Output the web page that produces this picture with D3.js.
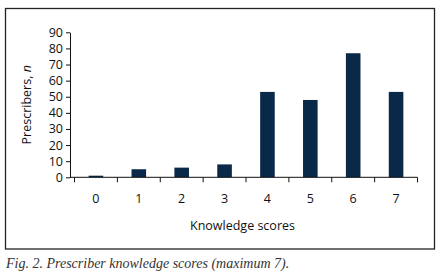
<!DOCTYPE html>
<html>
<head>
<meta charset="utf-8">
<script src="https://cdn.jsdelivr.net/npm/d3@7"></script>
<style>
  body { margin: 0; background: #fff; }
  svg { display: block; }
</style>
</head>
<body>
<div id="chart"></div>
<script>
// knowledge score categories and counts
var scores = ['0', '1', '2', '3', '4', '5', '6', '7']
var counts = [1, 5, 6, 8, 53, 48, 77, 53]
var yTicks = [0, 10, 20, 30, 40, 50, 60, 70, 80, 90]

const W = 440, H = 278
const margin = { top: 32.3, left: 74.5, right: 22.5, bottom: 100.7 }

const svg = d3.select('#chart')
    .append('svg')
    .attr('width', W)
    .attr('height', H)

// frame round the chart
svg.append('rect')
    .attr('x', 5.5).attr('y', 8.5)
    .attr('width', 429).attr('height', 240.5)
    .attr('fill', 'none')
    .attr('stroke', '#222')
    .attr('stroke-width', 1.3)

const x = d3.scaleBand()
    .domain(scores)
    .range([margin.left, W - margin.right])
    .paddingInner(0.66)
    .paddingOuter(0.33)

const y = d3.scaleLinear()
    .domain([0, 90])
    .range([H - margin.bottom, margin.top])

const font = '"Open Sans", sans-serif'
const axisX = 70

// bars
svg.append('g')
    .selectAll('rect')
    .data(counts)
    .join('rect')
    .attr('x', (d, i) => x(scores[i]))
    .attr('y', d => y(d))
    .attr('width', x.bandwidth())
    .attr('height', d => y(0) - y(d))
    .attr('fill', '#0a2848')

// Y axis
const yAxis = svg.append('g')
    .attr('transform', `translate(${axisX}, 0)`)
    .call(d3.axisLeft(y).tickValues(yTicks).tickSize(4).tickSizeOuter(0).tickPadding(3))
yAxis.select('.domain').attr('stroke', '#111')
yAxis.selectAll('.tick line').attr('stroke', '#111')
yAxis.selectAll('text')
    .attr('font-family', font)
    .attr('font-size', 12.5)
    .attr('fill', '#111')

// X axis: line from the y axis, ticks on band edges
const xg = svg.append('g')
xg.append('line')
    .attr('x1', axisX).attr('x2', W - margin.right)
    .attr('y1', y(0)).attr('y2', y(0))
    .attr('stroke', '#111')
var edges = scores.map(s => x(s) - x.step() * x.paddingInner() / 2)
edges.push(W - margin.right)
xg.selectAll('.xt')
    .data(edges)
    .join('line')
    .attr('class', 'xt')
    .attr('x1', d => d).attr('x2', d => d)
    .attr('y1', y(0)).attr('y2', y(0) + 5)
    .attr('stroke', '#111')
xg.selectAll('text')
    .data(scores)
    .join('text')
    .attr('x', d => x(d) + x.bandwidth() / 2)
    .attr('y', 202.7)
    .attr('text-anchor', 'middle')
    .attr('font-family', font)
    .attr('font-size', 12.5)
    .attr('fill', '#111')
    .text(d => d)

// axis titles
svg.append('text')
    .attr('x', 242.5)
    .attr('y', 230)
    .attr('text-anchor', 'middle')
    .attr('font-family', font)
    .attr('font-size', 12.5)
    .attr('fill', '#111')
    .text('Knowledge scores')

const yl = svg.append('text')
    .attr('transform', `translate(31, ${(y(0) + y(90)) / 2}) rotate(-90)`)
    .attr('text-anchor', 'middle')
    .attr('font-family', font)
    .attr('font-size', 12.5)
    .attr('fill', '#111')
yl.append('tspan').text('Prescribers, ')
yl.append('tspan').attr('font-style', 'italic').text('n')

// caption
svg.append('text')
    .attr('x', 6)
    .attr('y', 268.3)
    .attr('font-family', '"Liberation Serif", serif')
    .attr('font-style', 'italic')
    .attr('font-size', 14)
    .attr('fill', '#333')
    .text('Fig. 2. Prescriber knowledge scores (maximum 7).')
</script>
</body>
</html>
